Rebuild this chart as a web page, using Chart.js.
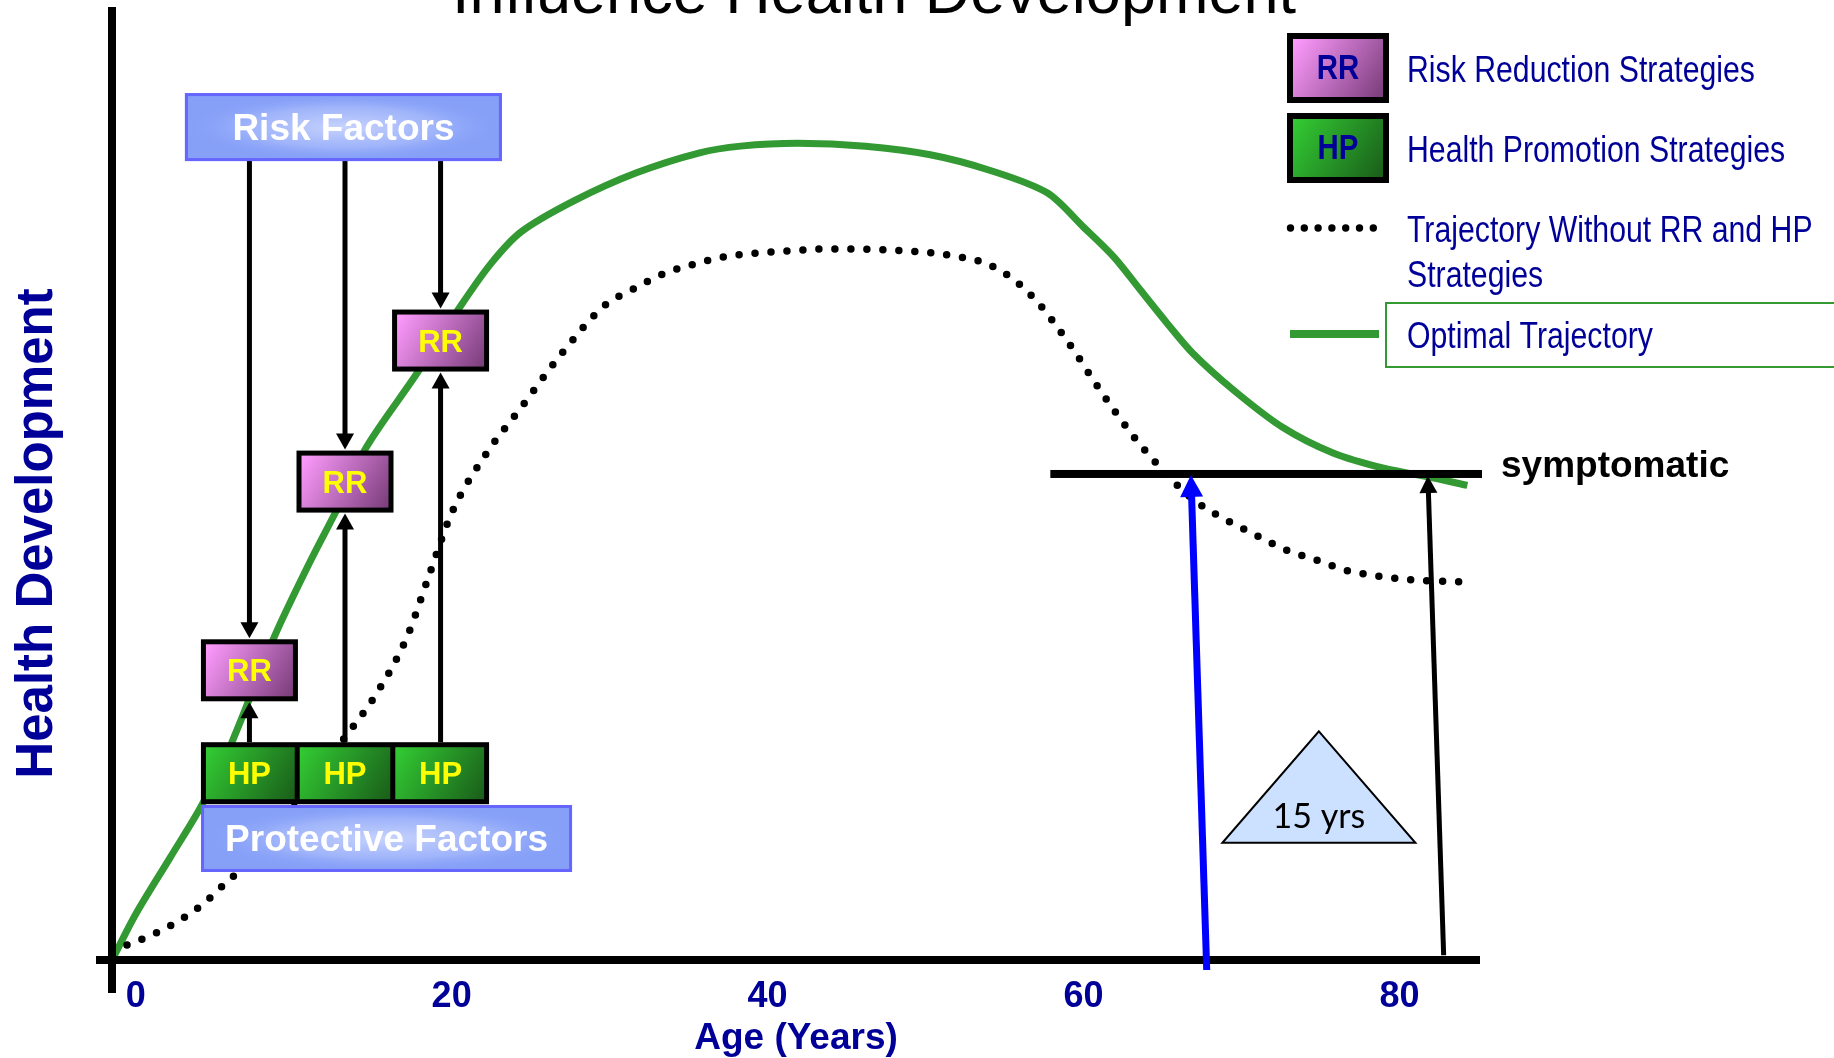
<!DOCTYPE html>
<html>
<head>
<meta charset="utf-8">
<title>Influence Health Development</title>
<script src="https://cdn.jsdelivr.net/npm/chart.js@4.4.1/dist/chart.umd.min.js"></script>
<style>
  html, body { margin: 0; padding: 0; background: #fff; overflow: hidden; }
  #wrap { position: relative; width: 1834px; height: 1058px; }
</style>
</head>
<body>
<div id="wrap"><canvas id="c" width="1834" height="1058"></canvas></div>
<script>
// ---- data ----
const ageTicks = [0, 20, 40, 60, 80];

// Optimal trajectory: age (years) and health development level
const optimalAges   = [-1.5, 0.0, 2.2, 4.2, 6.1, 8.8, 11.1, 12.9, 14.6, 17.7, 20.6, 22.5, 24.4, 27.8, 31.7, 35.7, 38.3, 41.9, 46.2, 50.3, 54.0, 57.7, 60.0, 61.9, 63.6, 65.3, 66.9, 69.5, 72.6, 75.8, 79.0, 82.1, 84.3];
const optimalHealth = [0, 4.8, 10.8, 16.3, 22.9, 34.0, 42.0, 47.8, 53.8, 61.3, 68.7, 73.1, 76.4, 79.7, 82.6, 84.7, 85.4, 85.7, 85.4, 84.5, 82.9, 80.5, 76.9, 73.8, 70.3, 66.8, 63.7, 59.8, 55.9, 53.2, 51.6, 50.6, 49.8];

// Trajectory without risk reduction and health promotion strategies
const withoutAges   = [-1.5, 0.7, 2.5, 4.2, 5.7, 6.5, 10.0, 13.4, 15.3, 17.2, 18.6, 20.0, 22.1, 24.5, 27.0, 29.7, 31.5, 33.4, 35.3, 37.3, 39.4, 41.4, 43.5, 45.6, 47.6, 49.7, 51.7, 53.8, 55.5, 57.0, 58.3, 59.5, 60.6, 61.8, 63.0, 64.3, 65.7, 67.2, 69.0, 70.9, 72.7, 74.7, 76.6, 78.6, 80.7, 83.8];
const withoutHealth = [1.0, 2.4, 3.9, 5.8, 8.1, 9.3, 16.5, 23.7, 28.1, 34.0, 40.5, 46.9, 52.9, 58.2, 63.7, 68.7, 70.4, 72.0, 73.0, 73.8, 74.2, 74.4, 74.6, 74.6, 74.5, 74.3, 73.9, 73.1, 71.5, 69.2, 66.5, 63.7, 60.9, 58.0, 55.3, 52.7, 50.2, 48.0, 46.2, 44.6, 43.1, 42.0, 40.9, 40.3, 39.9, 39.7];

// Symptomatic threshold and onset ages
const symptomaticLevel = 51;
const symptomaticFrom = 57.9;
const onsetWithout = 66.8;
const yearsGained = 15;
const onsetOptimal = onsetWithout + yearsGained;

// Intervention stages (ages) and risk-reduction levels
const stageAges = [7.2, 13.25, 19.3];
const rrLevels = [30.4, 50.2, 65.0];

// ---- styling ----
const FONT = '"Liberation Sans", Arial, Helvetica, sans-serif';
const NAVY = '#000099';
const GREEN = '#339933';
const PINK = ['#ff9cff', '#7a3d7a'];
const LEAF = ['#33cc33', '#1a5e1a'];

Chart.defaults.font.family = FONT;

function pairs(xs, ys) { return xs.map((x, i) => ({ x: x, y: ys[i] })); }

function text(ctx, str, x, y, font, color, align, sx) {
  ctx.save();
  ctx.font = font;
  ctx.fillStyle = color;
  ctx.textAlign = align || 'left';
  ctx.textBaseline = 'alphabetic';
  ctx.translate(x, y);
  ctx.scale(sx || 1, 1);
  ctx.fillText(str, 0, 0);
  ctx.restore();
}

function arrow(ctx, x1, y1, x2, y2, w, headW, headL, color) {
  const dx = x2 - x1, dy = y2 - y1, len = Math.hypot(dx, dy);
  const ux = dx / len, uy = dy / len;
  const bx = x2 - ux * headL, by = y2 - uy * headL;
  ctx.save();
  ctx.strokeStyle = color;
  ctx.fillStyle = color;
  ctx.lineWidth = w;
  ctx.lineCap = 'butt';
  ctx.beginPath();
  ctx.moveTo(x1, y1);
  ctx.lineTo(bx + ux, by + uy);
  ctx.stroke();
  ctx.beginPath();
  ctx.moveTo(x2, y2);
  ctx.lineTo(bx - uy * headW / 2, by + ux * headW / 2);
  ctx.lineTo(bx + uy * headW / 2, by - ux * headW / 2);
  ctx.closePath();
  ctx.fill();
  ctx.restore();
}

function gradFill(ctx, x, y, w, h, colors) {
  const g = ctx.createLinearGradient(x, y, x + w, y + h);
  g.addColorStop(0, colors[0]);
  g.addColorStop(1, colors[1]);
  ctx.fillStyle = g;
  ctx.fillRect(x, y, w, h);
}

function strategyBox(ctx, cx, cy, w, h, bw, colors, label, labelColor, font, sx) {
  const x = cx - w / 2, y = cy - h / 2;
  ctx.fillStyle = '#000';
  ctx.fillRect(x, y, w, h);
  gradFill(ctx, x + bw, y + bw, w - 2 * bw, h - 2 * bw, colors);
  text(ctx, label, cx, cy + 11, font, labelColor, 'center', sx);
}

function factorBox(ctx, cx, cy, w, h, label) {
  const x = cx - w / 2, y = cy - h / 2;
  ctx.save();
  ctx.fillStyle = '#86a0f8';
  ctx.fillRect(x, y, w, h);
  ctx.translate(cx, cy);
  ctx.scale(w / h, 1);
  const g = ctx.createRadialGradient(0, 0, 0, 0, 0, h / 2);
  g.addColorStop(0, 'rgba(200,212,253,1)');
  g.addColorStop(0.6, 'rgba(170,188,251,0.7)');
  g.addColorStop(1, 'rgba(134,160,248,0)');
  ctx.fillStyle = g;
  ctx.fillRect(-h / 2, -h / 2, h, h);
  ctx.restore();
  ctx.strokeStyle = '#6666ff';
  ctx.lineWidth = 3;
  ctx.strokeRect(x + 1.5, y + 1.5, w - 3, h - 3);
  text(ctx, label, cx, cy + 13, 'bold 37px ' + FONT, '#ffffff', 'center');
}

// Annotations, axes and key drawn on top of the plotted trajectories
const diagramPlugin = {
  id: 'diagram',
  afterDraw(chart) {
    const ctx = chart.ctx;
    const xs = chart.scales.x, ys = chart.scales.y;
    const area = chart.chartArea;
    const X = v => xs.getPixelForValue(v);
    const Y = v => ys.getPixelForValue(v);

    // title (runs off the top edge)
    text(ctx, 'Influence Health Development', 874, 13, '63px ' + FONT, '#000', 'center');

    // axes
    ctx.fillStyle = '#000';
    ctx.fillRect(area.left - 4, area.top, 8, area.bottom - area.top + 33);
    ctx.fillRect(area.left - 16, area.bottom - 4, area.right - area.left + 16, 8);

    // y axis title
    ctx.save();
    ctx.translate(52, (area.top + area.bottom) / 2 + 50);
    ctx.rotate(-Math.PI / 2);
    text(ctx, 'Health Development', 0, 0, 'bold 51px ' + FONT, NAVY, 'center');
    ctx.restore();

    // symptomatic threshold
    const sy = Y(symptomaticLevel);
    ctx.fillStyle = '#000';
    ctx.fillRect(X(symptomaticFrom), sy - 4, 1482 - X(symptomaticFrom), 8);
    text(ctx, 'symptomatic', 1501, sy + 3, 'bold 37px ' + FONT, '#000', 'left');

    // onset arrows
    arrow(ctx, X(onsetWithout + 1), Y(-1.05), X(onsetWithout), sy + 1, 7, 23, 22, '#0000ff');
    arrow(ctx, X(onsetOptimal + 1), Y(0.5), X(onsetOptimal), sy + 2, 5, 18, 17, '#000');

    // years gained triangle
    const tc = X(onsetWithout + yearsGained / 2 + 0.6);
    ctx.beginPath();
    ctx.moveTo(tc, Y(24.0));
    ctx.lineTo(tc + 96.5, Y(12.3));
    ctx.lineTo(tc - 96.5, Y(12.3));
    ctx.closePath();
    ctx.fillStyle = '#cce0ff';
    ctx.fill();
    ctx.strokeStyle = '#000';
    ctx.lineWidth = 2;
    ctx.stroke();
    text(ctx, yearsGained + ' yrs', tc, Y(13.85), '34px Lato, "Open Sans", sans-serif', '#000', 'center');

    // risk factors -> RR, HP -> RR
    const rfY = Y(87.4), rfH = 68;
    const hpY = Y(19.6), boxH = 62, boxW = 97;
    stageAges.forEach((a, i) => {
      const cx = X(a), ry = Y(rrLevels[i]);
      arrow(ctx, cx, rfY + rfH / 2, cx, ry - boxH / 2 - 1, 5, 18, 16, '#000');
      arrow(ctx, cx, hpY - boxH / 2, cx, ry + boxH / 2 + 1, 5, 18, 16, '#000');
    });

    // RR boxes
    stageAges.forEach((a, i) => {
      strategyBox(ctx, X(a), Y(rrLevels[i]), boxW, boxH, 5, PINK, 'RR', '#ffff00', 'bold 31px ' + FONT, 1);
    });

    // HP row
    const cxs = stageAges.map(X);
    const rowL = cxs[0] - boxW / 2, rowR = cxs[cxs.length - 1] + boxW / 2;
    ctx.fillStyle = '#000';
    ctx.fillRect(rowL, hpY - boxH / 2, rowR - rowL, boxH);
    cxs.forEach((cx, i) => {
      const l = i === 0 ? rowL + 5 : (cxs[i - 1] + cx) / 2 + 2.5;
      const r = i === cxs.length - 1 ? rowR - 5 : (cx + cxs[i + 1]) / 2 - 2.5;
      gradFill(ctx, l, hpY - boxH / 2 + 5, r - l, boxH - 10, LEAF);
      text(ctx, 'HP', cx, hpY + 11, 'bold 31px ' + FONT, '#ffff00', 'center');
    });

    // factor banners
    factorBox(ctx, X(13.15), rfY, 317, rfH, 'Risk Factors');
    factorBox(ctx, X(15.88), Y(12.75), 371, 67, 'Protective Factors');

    // key
    const NS = 0.84;
    const keyFont = '36px ' + FONT;
    strategyBox(ctx, 1338, 68, 102, 70, 6, PINK, 'RR', NAVY, 'bold 35px ' + FONT, NS);
    text(ctx, 'Risk Reduction Strategies', 1407, 82, keyFont, NAVY, 'left', NS);
    strategyBox(ctx, 1338, 148, 102, 70, 6, LEAF, 'HP', NAVY, 'bold 35px ' + FONT, NS);
    text(ctx, 'Health Promotion Strategies', 1407, 162, keyFont, NAVY, 'left', NS);
    ctx.fillStyle = '#000';
    for (let i = 0; i < 7; i++) {
      ctx.beginPath();
      ctx.arc(1290.5 + i * 13.8, 228, 3.7, 0, Math.PI * 2);
      ctx.fill();
    }
    text(ctx, 'Trajectory Without RR and HP', 1407, 242, keyFont, NAVY, 'left', NS);
    text(ctx, 'Strategies', 1407, 287, keyFont, NAVY, 'left', NS);
    ctx.fillStyle = GREEN;
    ctx.fillRect(1290, 330, 89, 8);
    ctx.strokeStyle = GREEN;
    ctx.lineWidth = 2;
    ctx.strokeRect(1386, 303, 470, 64);
    text(ctx, 'Optimal Trajectory', 1407, 348, keyFont, NAVY, 'left', NS);
  }
};

new Chart(document.getElementById('c'), {
  type: 'line',
  data: {
    datasets: [
      {
        label: 'Trajectory Without RR and HP Strategies',
        data: pairs(withoutAges, withoutHealth),
        borderColor: '#000',
        borderWidth: 7.5,
        borderDash: [0, 16],
        borderCapStyle: 'round',
        pointRadius: 0,
        cubicInterpolationMode: 'monotone',
        fill: false
      },
      {
        label: 'Optimal Trajectory',
        data: pairs(optimalAges, optimalHealth),
        borderColor: GREEN,
        borderWidth: 7,
        pointRadius: 0,
        tension: 0.3,
        fill: false
      }
    ]
  },
  options: {
    responsive: false,
    animation: false,
    devicePixelRatio: 1,
    layout: { padding: { left: 0, top: 7, right: 354, bottom: 0 } },
    plugins: {
      legend: { display: false },
      tooltip: { enabled: false },
      title: { display: false }
    },
    scales: {
      x: {
        type: 'linear',
        min: -1.5,
        max: 85.1,
        afterBuildTicks: s => { s.ticks = ageTicks.map(v => ({ value: v })); },
        afterFit: s => { s.height = 98; },
        grid: { display: false, drawTicks: false },
        border: { display: false },
        ticks: {
          padding: 15.5,
          color: NAVY,
          autoSkip: false,
          maxRotation: 0,
          font: { family: FONT, size: 36, weight: 'bold' }
        },
        title: {
          display: true,
          text: 'Age (Years)',
          color: NAVY,
          font: { family: FONT, size: 37, weight: 'bold' },
          padding: { top: 0, bottom: -2.5 }
        }
      },
      y: {
        type: 'linear',
        min: 0,
        max: 100,
        afterFit: s => { s.width = 112; },
        grid: { display: false },
        border: { display: false },
        ticks: { display: false }
      }
    }
  },
  plugins: [diagramPlugin]
});
</script>
</body>
</html>
